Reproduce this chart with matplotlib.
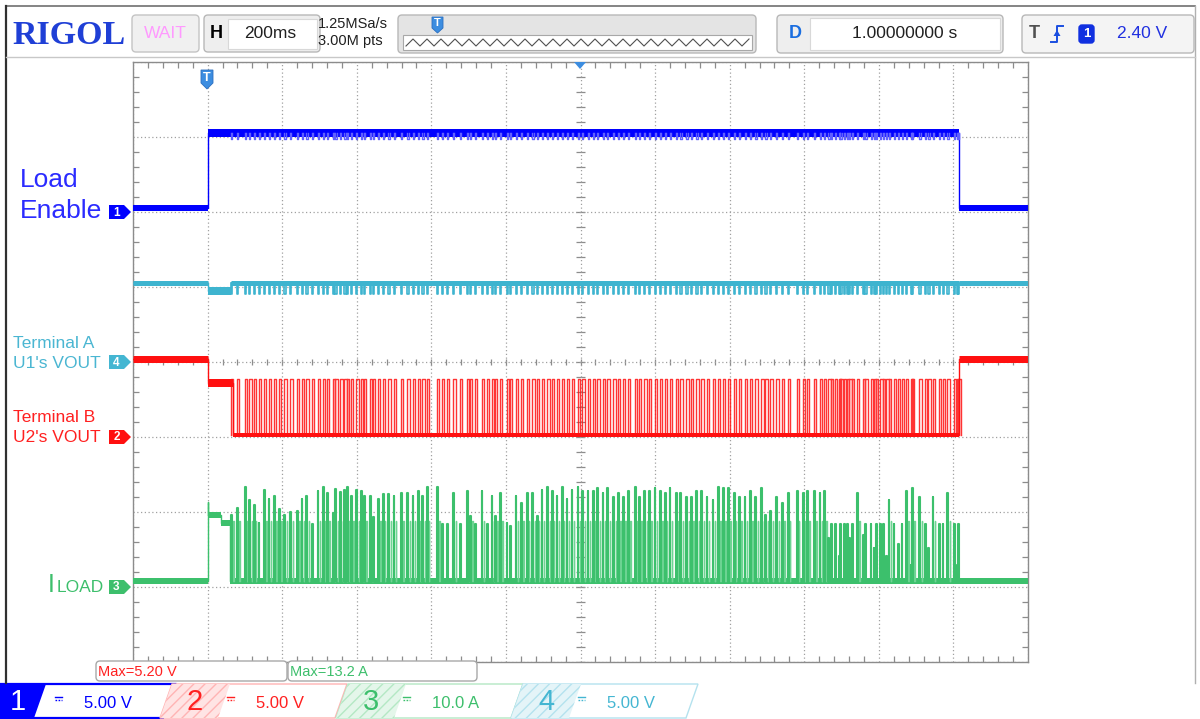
import matplotlib
matplotlib.use("Agg")
import matplotlib.pyplot as plt
import numpy as np
from matplotlib.patches import Polygon, FancyBboxPatch, Rectangle

plt.rcParams['font.family'] = ['Liberation Sans', 'DejaVu Sans']

W, H, DPI = 1200, 719, 100

# --- scope settings (time in ms after trigger, 200 ms/div, 12 x 8 div) ---
X_RANGE_MS = (-200, 2200)
CH1_OFFSET, CH1_SCALE = 6.0, 5.0     # Load Enable, 5 V/div
CH4_OFFSET, CH4_SCALE = 4.0, 5.0     # U1 VOUT, 5 V/div
CH2_OFFSET, CH2_SCALE = 3.0, 5.0     # U2 VOUT, 5 V/div
CH3_OFFSET, CH3_SCALE = 1.0, 10.0    # I load, 10 A/div

# --- piecewise levels ---
CH1_EDGES_MS = [0, 2016]
CH1_LEVELS_V = [0.27, 5.3, 0.27]
CH1_DIP_V = 4.87

CH4_EDGES_MS = [0, 62, 2016]
CH4_LEVELS_V = [5.27, 4.73, 5.27, 5.27]
CH4_DIP_V = 4.55

CH2_EDGES_MS = [0, 68, 2016]
CH2_LEVELS_V = [5.23, 3.6, 0.13, 5.23]
CH2_PULSE_V = 3.85

CH3_EDGES_MS = [0, 2, 37, 60]
CH3_LEVELS_A = [0.8, 11.4, 9.6, 8.6, 0.8]
CH3_SHOULDER_A = 8.8

# load current pulses: start time (ms) and peak (A)
PULSE_MS = [
    63, 79, 100, 112, 124, 137, 151, 164, 178, 192, 206, 222, 240, 252, 265, 280, 295,
    309, 320, 336, 343, 356, 367, 374, 385, 399, 412, 420, 436, 444, 457, 470, 485, 499,
    519, 536, 550, 564, 576, 588, 615, 628, 642, 659, 677, 695, 704, 717, 735, 749, 762,
    771, 784, 802, 811, 826, 841, 856, 871, 883, 896, 911, 923, 936, 950, 963, 976, 992,
    1005, 1019, 1034, 1045, 1059, 1072, 1088, 1101, 1114, 1128, 1146, 1157, 1171, 1184,
    1199, 1213, 1226, 1239, 1256, 1268, 1284, 1297, 1311, 1324, 1338, 1354, 1369, 1382,
    1396, 1411, 1425, 1440, 1455, 1469, 1485, 1496, 1509, 1525, 1541, 1556, 1580, 1596,
    1608, 1626, 1641, 1653, 1665, 1672, 1683, 1693, 1697, 1706, 1715, 1721, 1728, 1742,
    1757, 1764, 1778, 1786, 1793, 1804, 1811, 1820, 1826, 1840, 1851, 1861, 1873, 1885,
    1889, 1909, 1924, 1933, 1944, 1962, 1971, 1984, 2001, 2010, 2013,
]
PULSE_PEAK_A = [
    9.6, 10.5, 13.3, 11.6, 10.9, 8.6, 12.9, 11.7, 12.1, 10.4, 9.6, 10.0, 10.1, 11.8, 12.1, 8.4, 12.8,
    13.3, 12.6, 9.9, 13.1, 12.7, 13.0, 13.4, 12.1, 12.9, 12.8, 12.1, 12.1, 9.3, 11.7, 12.4, 12.4, 12.2,
    12.5, 12.5, 12.1, 12.8, 12.1, 13.4, 13.3, 8.4, 8.4, 12.5, 8.4, 12.8, 9.5, 8.4, 12.8, 8.4, 12.1,
    9.5, 12.5, 8.6, 8.2, 12.1, 11.2, 12.5, 12.5, 9.5, 12.9, 13.3, 12.8, 12.1, 13.3, 11.7, 12.9, 13.4,
    12.8, 12.8, 12.8, 13.2, 12.5, 13.2, 12.0, 12.5, 12.0, 12.8, 13.4, 12.0, 12.8, 12.8,
    13.2, 12.8, 12.5, 13.2, 12.5, 12.5, 12.0, 12.0, 12.8, 12.8, 12.0, 11.6, 13.4, 13.2,
    13.2, 12.5, 12.0, 12.0, 12.8, 12.0, 13.2, 9.6, 10.1, 12.0, 11.2, 12.5, 12.8, 12.5,
    12.8, 12.8, 12.5, 12.8, 6.6, 8.4, 8.4, 4.1, 8.4, 8.4, 8.4, 6.6, 8.4, 12.5,
    6.9, 8.4, 8.4, 5.2, 8.4, 8.4, 8.4, 4.1, 11.6, 8.4, 5.7, 8.4, 12.8, 2.9,
    13.2, 12.0, 8.4, 5.2, 12.0, 8.4, 8.4, 12.5, 8.4, 2.9, 8.4,
]

BLUE = '#0000ff'
CYAN = '#3eb4cf'
RED = '#ff1010'
GREEN = '#3cc06c'
GRID_GRAY = '#a0a0a0'
FRAME_GRAY = '#8c8c8c'


def px2pt(px):
    return px * 72.0 / DPI


def step_path(edges, levels, t0, t1):
    xs, ys = [t0], [levels[0]]
    for e, a, b in zip(edges, levels[:-1], levels[1:]):
        xs += [e, e]
        ys += [a, b]
    xs.append(t1)
    ys.append(levels[-1])
    return np.array(xs, float), np.array(ys, float)


def draw_channel(ax, edges, levels, bands, offset, scale, color):
    xs, ys = step_path(edges, levels, *X_RANGE_MS)
    ax.plot(xs, offset + ys / scale, color=color, lw=1.0, zorder=3)
    bounds = [X_RANGE_MS[0]] + list(edges) + [X_RANGE_MS[1]]
    for i, lv in enumerate(levels):
        ax.hlines(offset + lv / scale, bounds[i], bounds[i + 1], colors=color,
                  lw=px2pt(bands[i]), capstyle='butt', zorder=3)


def pulse_path(times, tops, base, width, delay=0.0):
    xs, ys = [], []
    for t, p in zip(times, tops):
        t = t + delay
        xs += [t, t, t + width, t + width, np.nan]
        ys += [base, p, p, base, np.nan]
    return np.array(xs, float), np.array(ys, float)


fig = plt.figure(figsize=(W / DPI, H / DPI), dpi=DPI)
fig.patch.set_facecolor('white')

# ---------------- grid area ----------------
ax = fig.add_axes([133 / W, (H - 662) / H, 895 / W, 600 / H], zorder=2)
ax.set_xlim(*X_RANGE_MS)
ax.set_ylim(0, 8)
for s in ax.spines.values():
    s.set_color(FRAME_GRAY)
    s.set_linewidth(1.0)
ax.set_xticks(np.arange(-200, 2201, 200))
ax.set_yticks(np.arange(0, 9))
ax.set_xticks(np.arange(-200, 2201, 40), minor=True)
ax.set_yticks(np.arange(0, 8.01, 0.2), minor=True)
ax.grid(True, which='major', color=GRID_GRAY, linestyle=(0, (1, 2)), linewidth=0.9)
ax.tick_params(which='both', direction='in', top=True, right=True,
               labelbottom=False, labelleft=False, color=FRAME_GRAY)
ax.tick_params(which='major', length=0)
ax.tick_params(which='minor', length=4, width=0.9)
# ticks along the centre cross
mx = np.arange(-200, 2201, 40)
my = np.arange(0, 8.01, 0.2)
ax.vlines(mx, 4 - 0.045, 4 + 0.045, colors=FRAME_GRAY, lw=0.9, zorder=1)
ax.hlines(my, 1000 - 11, 1000 + 11, colors=FRAME_GRAY, lw=0.9, zorder=1)

# channel 1 - load enable
draw_channel(ax, CH1_EDGES_MS, CH1_LEVELS_V, [6, 8, 6], CH1_OFFSET, CH1_SCALE, BLUE)
xs, ys = pulse_path(PULSE_MS, [CH1_DIP_V] * len(PULSE_MS), CH1_LEVELS_V[1], 3)
ax.plot(xs, CH1_OFFSET + ys / CH1_SCALE, color='#6060ff', lw=1.0, zorder=3)

# channel 4 - U1 VOUT
draw_channel(ax, CH4_EDGES_MS, CH4_LEVELS_V, [5, 8, 5, 5], CH4_OFFSET, CH4_SCALE, CYAN)
xs, ys = pulse_path(PULSE_MS, [CH4_DIP_V] * len(PULSE_MS), CH4_LEVELS_V[2], 3)
ax.plot(xs, CH4_OFFSET + ys / CH4_SCALE, color=CYAN, lw=1.2, zorder=3)

# channel 2 - U2 VOUT
draw_channel(ax, CH2_EDGES_MS, CH2_LEVELS_V, [7, 8, 4, 7], CH2_OFFSET, CH2_SCALE, RED)
xs, ys = pulse_path(PULSE_MS, [CH2_PULSE_V] * len(PULSE_MS), CH2_LEVELS_V[2], 6)
ax.plot(xs, CH2_OFFSET + ys / CH2_SCALE, color=RED, lw=1.0, alpha=0.85, zorder=3)

# channel 3 - load current: a peak, then a lower tail pulse just after it
draw_channel(ax, CH3_EDGES_MS, CH3_LEVELS_A, [6, 5, 6, 6, 6], CH3_OFFSET, CH3_SCALE, GREEN)
tail_t = [t for t, p in zip(PULSE_MS, PULSE_PEAK_A) if p > CH3_SHOULDER_A + 0.5]
xs, ys = pulse_path(tail_t, [CH3_SHOULDER_A] * len(tail_t), CH3_LEVELS_A[-1], 1.0, delay=6)
ax.plot(xs, CH3_OFFSET + ys / CH3_SCALE, color='#6fd494', lw=1.0, zorder=3)
xs, ys = pulse_path(PULSE_MS, PULSE_PEAK_A, CH3_LEVELS_A[-1], 2.0)
ax.plot(xs, CH3_OFFSET + ys / CH3_SCALE, color=GREEN, lw=1.5, zorder=4)

# ---------------- decoration layer in pixel coordinates ----------------
deco = fig.add_axes([0, 0, 1, 1], zorder=3)
deco.set_xlim(0, W)
deco.set_ylim(H, 0)
deco.axis('off')
deco.patch.set_alpha(0)


def rbox(x0, y0, x1, y1, face, edge, r=4, lw=1.0):
    deco.add_patch(FancyBboxPatch((x0, y0), x1 - x0, y1 - y0,
                                  boxstyle='round,pad=0,rounding_size=%g' % r,
                                  facecolor=face, edgecolor=edge, lw=lw))


def ch_px(offset):
    return 662 - offset * 75


# outer frame
deco.plot([6, 1195], [6, 6], color='#707070', lw=1.2)
deco.plot([6, 6], [6, 683], color='#303030', lw=1.6)
deco.plot([1195, 1195], [6, 683], color='#b0b0b0', lw=1.0)
deco.plot([6, 1195], [57, 57], color='#c8c8c8', lw=1.0)

# header
deco.text(12, 44, 'RIGOL', fontsize=24.5, fontweight='bold', family='Liberation Serif',
          color='#1f3fd6', va='baseline', ha='left')
rbox(132, 15, 199, 52, '#f0f0f0', '#c4c4c4')
deco.text(165.5, 34, 'WAIT', fontsize=12.5, color='#ff99ff', ha='center', va='center')

rbox(204, 15, 320, 52, '#eeeeee', '#b8b8b8')
deco.add_patch(Rectangle((228, 19), 89, 30, facecolor='white', edgecolor='#d8d8d8', lw=0.8))
deco.text(216, 34, 'H', fontsize=13, fontweight='bold', color='black', ha='center', va='center')
deco.text(270, 34, '200ms', fontsize=12.5, color='#202020', ha='center', va='center')

deco.text(318, 24, '1.25MSa/s', fontsize=10.5, color='#202020', ha='left', va='center')
deco.text(318, 41, '3.00M pts', fontsize=10.5, color='#202020', ha='left', va='center')

rbox(398, 15, 756, 53, '#e4e4e4', '#b8b8b8')
deco.add_patch(Rectangle((403, 35), 349, 15, facecolor='white', edgecolor='#a8a8a8', lw=0.8))
zx = np.arange(406, 750, 7)
zy = np.where(np.arange(len(zx)) % 2 == 0, 46, 39)
deco.plot(zx, zy, color='#505050', lw=0.8)
deco.add_patch(Polygon([(432, 17), (443, 17), (443, 28), (437.5, 33), (432, 28)],
                       closed=True, facecolor='#3c8de0', edgecolor='#2c6fc0', lw=0.6))
deco.text(437.5, 23.5, 'T', fontsize=8, fontweight='bold', color='white', ha='center', va='center')

rbox(777, 15, 1003, 53, '#eeeeee', '#b8b8b8')
deco.add_patch(Rectangle((810, 18), 190, 32, facecolor='white', edgecolor='#d8d8d8', lw=0.8))
deco.text(795, 34, 'D', fontsize=13, fontweight='bold', color='#1a6ee0', ha='center', va='center')
deco.text(905, 34, '1.00000000 s', fontsize=12.5, color='#202020', ha='center', va='center')

rbox(1022, 15, 1194, 53, '#f4f4f4', '#b8b8b8')
deco.text(1034, 34, 'T', fontsize=13, fontweight='bold', color='#505050', ha='center', va='center')
deco.plot([1051, 1057, 1057, 1063], [42, 42, 26, 26], color='#1a4ee0', lw=1.4)
deco.add_patch(Polygon([(1053.5, 36), (1060.5, 36), (1057, 30)], closed=True,
                       facecolor='#1a4ee0', edgecolor='none'))
rbox(1079, 25, 1094, 43, '#1030e0', '#1030e0', r=3)
deco.text(1086.5, 34, '1', fontsize=9.5, fontweight='bold', color='white', ha='center', va='center')
deco.text(1142, 34, '2.40 V', fontsize=12.5, color='#2030e0', ha='center', va='center')

# trigger and centre markers on the grid
deco.add_patch(Polygon([(201, 70), (213, 70), (213, 83), (207, 89), (201, 83)], closed=True,
                       facecolor='#3c8de0', edgecolor='#2c6fc0', lw=0.6, zorder=5))
deco.text(207, 78, 'T', fontsize=9, fontweight='bold', color='white', ha='center', va='center', zorder=6)
deco.add_patch(Polygon([(574, 62), (586, 62), (580, 69)], closed=True,
                       facecolor='#3c8de0', edgecolor='none', zorder=5))

# channel labels and offset tags
deco.text(20, 187, 'Load', fontsize=19, color='#2b2bff', ha='left', va='baseline')
deco.text(20, 218, 'Enable', fontsize=19, color='#2b2bff', ha='left', va='baseline')
deco.text(13, 348, 'Terminal A', fontsize=12.5, color='#4ab6d2', ha='left', va='baseline')
deco.text(13, 368, "U1's VOUT", fontsize=12.5, color='#4ab6d2', ha='left', va='baseline')
deco.text(13, 422, 'Terminal B', fontsize=12.5, color='#ff2020', ha='left', va='baseline')
deco.text(13, 442, "U2's VOUT", fontsize=12.5, color='#ff2020', ha='left', va='baseline')
deco.text(48, 592, 'I', fontsize=18, color='#3dbf6c', ha='left', va='baseline')
deco.text(57, 592, 'LOAD', fontsize=12.5, color='#3dbf6c', ha='left', va='baseline')

for num, offset, color in [('1', CH1_OFFSET, BLUE), ('4', CH4_OFFSET, '#44b6d2'),
                           ('2', CH2_OFFSET, RED), ('3', CH3_OFFSET, '#3dbf6c')]:
    yc = ch_px(offset)
    deco.add_patch(Polygon([(109, yc - 7), (124, yc - 7), (131, yc), (124, yc + 7), (109, yc + 7)],
                           closed=True, facecolor=color, edgecolor='none'))
    deco.text(116.5, yc + 0.5, num, fontsize=8.5, fontweight='bold', color='white',
              ha='center', va='center')

# max measurements
rbox(96, 661, 287, 681, 'white', '#a8a8a8')
deco.text(98, 671.5, 'Max=5.20 V', fontsize=10.5, color='#ff2020', ha='left', va='center')
rbox(288, 661, 477, 681, 'white', '#a8a8a8')
deco.text(290, 671.5, 'Max=13.2 A', fontsize=10.5, color='#3dbf6c', ha='left', va='center')

# channel tabs
plt.rcParams['hatch.linewidth'] = 1.0
tabs = [
    ('1', '5.00 V', 0, BLUE, BLUE, None),
    ('2', '5.00 V', 172, '#ff2020', '#ffb4b4', '#ffe4e4'),
    ('3', '10.0 A', 348, '#3dbf6c', '#b4e8c4', '#e4f6ea'),
    ('4', '5.00 V', 523, '#44b6d2', '#b4e2ee', '#e4f4f8'),
]
ty0, ty1, sl = 684, 718, 12
for num, txt, x0, color, edge, hatch_face in tabs:
    x1 = x0 + 175
    deco.add_patch(Polygon([(x0, ty0), (x1, ty0), (x1 - sl, ty1), (x0 - sl, ty1)], closed=True,
                           facecolor='white', edgecolor=edge, lw=1.6 if num == '1' else 1.0))
    if hatch_face is None:
        deco.add_patch(Polygon([(x0 - sl, ty0), (x0 + 46, ty0), (x0 + 34, ty1), (x0 - sl, ty1)],
                               closed=True, facecolor=BLUE, edgecolor='none'))
        ncol = 'white'
        nx = x0 + 18
    else:
        deco.add_patch(Polygon([(x0, ty0), (x0 + 58, ty0), (x0 + 46, ty1), (x0 - sl, ty1)],
                               closed=True, facecolor=hatch_face, edgecolor=edge, hatch='///', lw=0))
        ncol = color
        nx = x0 + 23
    deco.text(nx, 702, num, fontsize=21, color=ncol, ha='center', va='center')
    ix = x0 + 55
    deco.plot([ix, ix + 7], [696.5, 696.5], color=color, lw=1.0)
    deco.plot([ix, ix + 7], [700, 700], color=color, lw=1.0, linestyle=(0, (1.2, 1.0)))
    deco.text(x0 + 108, 704, txt, fontsize=12, color=color, ha='center', va='center')

fig.savefig('out.png', dpi=DPI, facecolor='white')
